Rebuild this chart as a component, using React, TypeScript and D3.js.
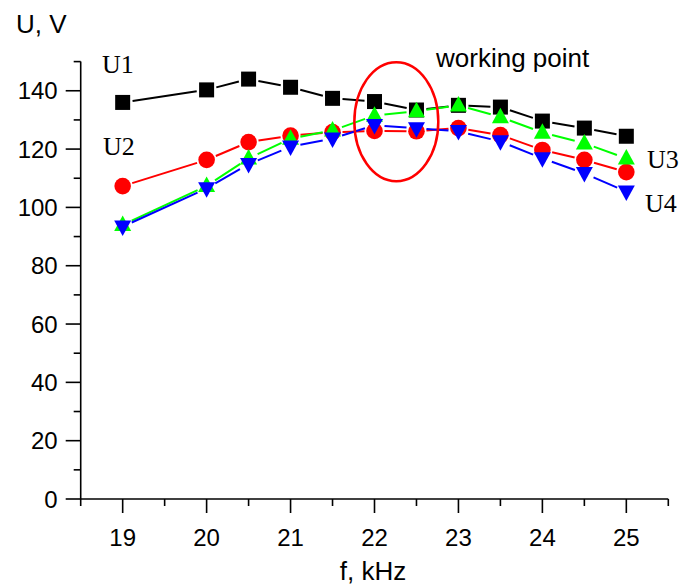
import React from 'react';
import * as d3 from 'd3';

// frequency, kHz
const freq = [19, 20, 20.5, 21, 21.5, 22, 22.5, 23, 23.5, 24, 24.5, 25];

// voltages, V
const u1 = [136, 140.3, 144, 141.2, 137.4, 136.3, 133.4, 135, 134.4, 129.6, 127.2, 124.4];
const u2 = [107.3, 116.3, 122.4, 124.6, 125.8, 126.2, 126.1, 127.2, 124.8, 119.7, 116.3, 112.1];
const u3 = [94, 107.4, 116.8, 123.6, 126.4, 131.5, 133, 135, 131, 125.7, 122, 116.8];
const u4 = [93.4, 106.5, 114.8, 120.8, 123.6, 128.2, 127.1, 126.1, 122.6, 116.8, 111.7, 105.4];

const yTicks = [0, 20, 40, 60, 80, 100, 120, 140];
const yMinor = [10, 30, 50, 70, 90, 110, 130, 150];
const xTicks = [19, 20, 21, 22, 23, 24, 25];
const xMinor = [18.5, 19.5, 20.5, 21.5, 22.5, 23.5, 24.5, 25.5];

const series = [
  { name: 'U1', values: u1, color: '#000000', shape: 'square' },
  { name: 'U2', values: u2, color: '#ff0000', shape: 'circle' },
  { name: 'U3', values: u3, color: '#00ff00', shape: 'up' },
  { name: 'U4', values: u4, color: '#0000ff', shape: 'down' },
];

const W = 682;
const H = 586;
const sans = '"Liberation Sans", Arial, sans-serif';
const serif = '"Liberation Serif", "Times New Roman", serif';

function Marker({ shape, x, y, color }: { shape: string; x: number; y: number; color: string }) {
  if (shape === 'square') return <rect x={x - 7.5} y={y - 7.5} width={15} height={15} fill={color} />;
  if (shape === 'circle') return <circle cx={x} cy={y} r={8.3} fill={color} />;
  const s = 17;
  const h = 15.5;
  if (shape === 'up')
    return <path d={`M${x},${y - h * 0.6}L${x + s / 2},${y + h * 0.4}L${x - s / 2},${y + h * 0.4}Z`} fill={color} />;
  return <path d={`M${x},${y + h * 0.6}L${x + s / 2},${y - h * 0.4}L${x - s / 2},${y - h * 0.4}Z`} fill={color} />;
}

export default function App() {
  const x = d3.scaleLinear().domain([18.5, 25.5]).range([80.7, 668.3]);
  const y = d3.scaleLinear().domain([0, 150]).range([499, 61.6]);
  const gap = 10;

  // line pieces with a gap around each symbol
  const segments = (vals: number[]) => {
    const out: { x1: number; y1: number; x2: number; y2: number }[] = [];
    for (let i = 0; i < vals.length - 1; i++) {
      const ax = x(freq[i]), ay = y(vals[i]);
      const bx = x(freq[i + 1]), by = y(vals[i + 1]);
      const len = Math.hypot(bx - ax, by - ay);
      if (len <= gap * 2) continue;
      const ux = (bx - ax) / len, uy = (by - ay) / len;
      out.push({ x1: ax + ux * gap, y1: ay + uy * gap, x2: bx - ux * gap, y2: by - uy * gap });
    }
    return out;
  };

  const x0 = x.range()[0];
  const y0 = y.range()[0];

  return (
    <svg width={W} height={H} style={{ position: 'absolute', left: 0, top: 0, background: '#fff' }}>
      <rect width={W} height={H} fill="#fff" />

      {/* axes */}
      <g stroke="#000" strokeWidth={1.6} fill="none">
        <line x1={x0} y1={y.range()[1]} x2={x0} y2={y0} />
        <line x1={x0} y1={y0} x2={x.range()[1]} y2={y0} />
        {yTicks.map((t) => (
          <line key={'yt' + t} x1={x0 - 15} x2={x0} y1={y(t)} y2={y(t)} />
        ))}
        {yMinor.map((t) => (
          <line key={'ym' + t} x1={x0 - 7} x2={x0} y1={y(t)} y2={y(t)} />
        ))}
        {xTicks.map((t) => (
          <line key={'xt' + t} x1={x(t)} x2={x(t)} y1={y0} y2={y0 + 14} />
        ))}
        {xMinor.map((t) => (
          <line key={'xm' + t} x1={x(t)} x2={x(t)} y1={y0} y2={y0 + 7} />
        ))}
      </g>

      <g fontFamily={sans} fontSize={24} fill="#000">
        {yTicks.map((t) => (
          <text key={'yl' + t} x={x0 - 23} y={y(t) + 8.5} textAnchor="end">{t}</text>
        ))}
        {xTicks.map((t) => (
          <text key={'xl' + t} x={x(t)} y={546} textAnchor="middle">{t}</text>
        ))}
      </g>
      <g fontFamily={sans} fontSize={26} fill="#000">
        <text x={373} y={580} textAnchor="middle">f, kHz</text>
        <text x={16} y={33}>U, V</text>
        <text x={436} y={67}>working point</text>
      </g>

      {/* series */}
      {series.map((s) => (
        <g key={s.name}>
          {segments(s.values).map((g, i) => (
            <line key={i} x1={g.x1} y1={g.y1} x2={g.x2} y2={g.y2} stroke={s.color} strokeWidth={2} />
          ))}
          {s.values.map((v, i) => (
            <Marker key={i} shape={s.shape} x={x(freq[i])} y={y(v)} color={s.color} />
          ))}
        </g>
      ))}

      {/* working point ellipse */}
      <ellipse
        cx={x(22.26)}
        cy={y(129.4)}
        rx={x(22.76) - x(22.26)}
        ry={y(109) - y(129.4)}
        fill="none"
        stroke="#ff0000"
        strokeWidth={2.5}
      />

      <g fontFamily={serif} fontSize={26} fill="#000">
        <text x={102} y={73}>U1</text>
        <text x={103} y={155}>U2</text>
        <text x={647} y={168}>U3</text>
        <text x={645} y={212}>U4</text>
      </g>
    </svg>
  );
}
